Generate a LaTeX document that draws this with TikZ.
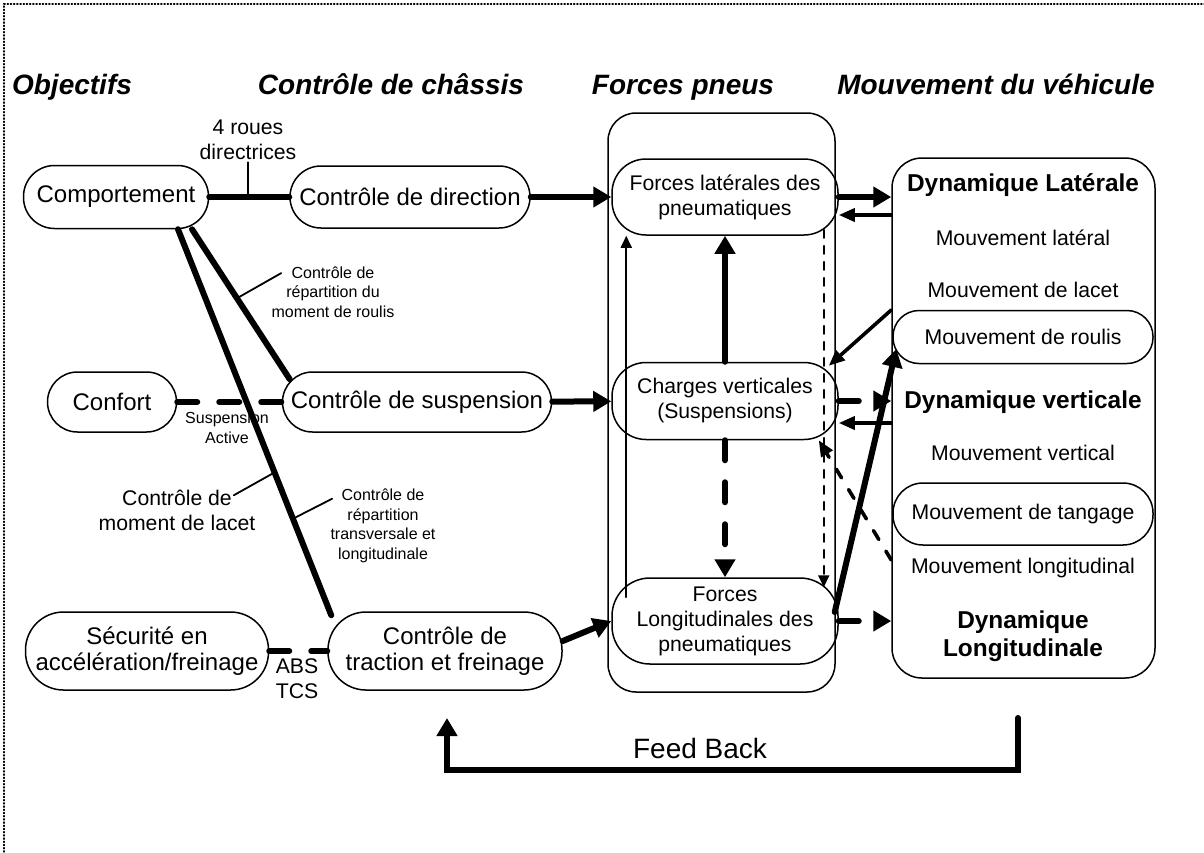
\documentclass[tikz,border=0pt]{standalone}
\usepackage{fontspec}
\setmainfont{Liberation Sans}
\usepackage{tikz}
\usetikzlibrary{arrows.meta}
\newcommand\bigtxt{\fontsize{12}{13}\selectfont}
\newcommand\midtxt{\fontsize{10.6}{12.5}\selectfont}
\newcommand\smalltxt{\fontsize{8}{9.8}\selectfont}
\newcommand\headtxt{\fontsize{14}{16}\selectfont\bfseries\itshape}
\newcommand\dyntxt{\fontsize{12.2}{14}\selectfont\bfseries}
\newcommand\fbtxt{\fontsize{14}{16}\selectfont}

\begin{document}
\begin{tikzpicture}[x=0.5pt,y=-0.5pt,line cap=round,
  pill/.style={draw,line width=0.75pt,rounded corners=#1,inner sep=0pt,align=center},
  pill/.default=15pt,
  lbl/.style={inner sep=1pt,align=center},
  thk/.style={line width=3pt},
  mid/.style={line width=1.8pt},
  thn/.style={line width=0.9pt},
  bigtip/.style={-{Triangle[length=9pt,width=10pt]}},
  midtip/.style={-{Triangle[length=8pt,width=6.5pt]}},
  thntip/.style={-{Triangle[length=6pt,width=5.5pt]}},
  bigdash/.style={dash pattern=on 10pt off 11pt},
  middash/.style={dash pattern=on 5.2pt off 6.8pt},
  thndash/.style={dash pattern=on 4.1pt off 3.9pt}]
  \useasboundingbox (0,0) rectangle (1204,852);
  \draw[densely dotted,line width=0.6pt] (4,852) -- (4,4) -- (1204,4);

  % column titles
  \foreach \x/\txt/\nm in {72/Objectifs/hobj,391/Contrôle de châssis/hchas,683/Forces pneus/hpneu,996/Mouvement du véhicule/hveh}
    \node[font=\headtxt,anchor=base] (\nm) at (\x,94) {\txt};

  % objectives and chassis control
  \node[pill=15.5pt,minimum width=92.5pt,minimum height=31.5pt,font=\bigtxt] (comp) at (116,197) {Comportement};
  \node[pill=15.5pt,minimum width=120pt,minimum height=31pt,font=\bigtxt] (dir) at (410,197) {Contrôle de direction};
  \node[pill,minimum width=64.5pt,minimum height=30pt,font=\bigtxt] (conf) at (112,402) {Confort};
  \node[pill,minimum width=134.5pt,minimum height=30pt,font=\bigtxt] (susp) at (417,402) {Contrôle de suspension};
  \node[pill=19pt,minimum width=121.5pt,minimum height=39pt,font=\bigtxt] (secu) at (147,651) {Sécurité en\\accélération/freinage};
  \node[pill=19pt,minimum width=117pt,minimum height=39pt,font=\bigtxt] (trac) at (445,651) {Contrôle de\\traction et freinage};

  % tyre forces
  \node[pill=14pt,minimum width=113.5pt,minimum height=289.5pt] (pneus) at (721.5,402.5) {};
  \node[pill=17pt,minimum width=113pt,minimum height=38pt,font=\midtxt] (flat) at (725,197) {Forces latérales des\\pneumatiques};
  \node[pill=17pt,minimum width=113pt,minimum height=38.5pt,font=\midtxt] (fvert) at (725,401) {Charges verticales\\(Suspensions)};
  \node[pill=19pt,minimum width=113pt,minimum height=43pt,font=\midtxt] (flong) at (725,621) {Forces\\Longitudinales des\\pneumatiques};

  % vehicle motion
  \node[pill=15pt,minimum width=131.5pt,minimum height=260pt] (mvt) at (1023.5,418) {};
  \node[pill=13pt,minimum width=130pt,minimum height=26.5pt,font=\midtxt] (roul) at (1023,337) {Mouvement de roulis};
  \node[pill,minimum width=130pt,minimum height=31pt,font=\midtxt] (tang) at (1023,514) {Mouvement de tangage};
  \node[font=\dyntxt] (dlat) at (1023,185) {Dynamique Latérale};
  \node[font=\dyntxt] (dver) at (1023,402) {Dynamique verticale};
  \node[font=\dyntxt,align=center] (dlon) at (1023,636) {Dynamique\\Longitudinale};
  \foreach \y/\txt/\nm in {238/Mouvement latéral/mlat,290/Mouvement de lacet/mlac,453/Mouvement vertical/mver,568/Mouvement longitudinal/mlong}
    \node[font=\midtxt] (\nm) at (1023,\y) {\txt};

  % labels on the links
  \node[lbl,font=\midtxt] (roues) at (248,140) {4 roues\\directrices};
  \node[lbl,font=\smalltxt] (rroul) at (333,292) {Contrôle de\\répartition du\\moment de roulis};
  \node[lbl,font=\smalltxt] (sact) at (227,428) {Suspension\\Active};
  \node[lbl,font=\midtxt] (lacet) at (177,510) {Contrôle de\\moment de lacet};
  \node[lbl,font=\smalltxt] (trans) at (383,526) {Contrôle de\\répartition\\transversale et\\longitudinale};
  \node[lbl,font=\midtxt] (abs) at (297,679) {ABS\\TCS};
  \node[font=\fbtxt] (fb) at (700,748) {Feed Back};

  % links on the left
  \draw[thk] (comp) -- (dir);
  \draw[thn] (roues.south) -- (roues.south |- comp.east);
  \draw[thk,bigtip] (dir) -- (flat);
  \draw[thk,bigdash] (conf) -- (susp);
  \draw[thk,bigtip] (susp) -- (fvert);
  \draw[thk,bigdash] (secu) -- (trac);
  \draw[thk,bigtip] ([yshift=5pt]trac.east) -- (flong.west);
  \draw[thk] ([xshift=38pt]comp.south) -- coordinate[pos=0.46] (lr) ([xshift=4pt,yshift=-4pt]susp.north west);
  \draw[thk] ([xshift=31pt]comp.south) -- coordinate[pos=0.63] (ll) coordinate[pos=0.75] (lt) ([xshift=2pt,yshift=-2pt]trac.north west);
  \draw[thn] (lr) -- ([xshift=6pt,yshift=-4.5pt]rroul.north west);
  \draw[thn] (ll) -- ([xshift=-12pt,yshift=-4pt]lacet.north east);
  \draw[thn] (lt) -- ([xshift=2pt,yshift=-6pt]trans.north west);

  % links inside the tyre box
  \draw[thk,bigtip] (fvert) -- (flat);
  \draw[thk,bigdash,bigtip] (fvert) -- (flong);
  \draw[thn,thntip] ([xshift=7.5pt,yshift=-10pt]flong.north west) -- ([xshift=7.5pt]flat.south west);
  \draw[thn,thndash,thntip] ([xshift=-7.5pt,yshift=3pt]flat.south east) -- ([xshift=-7.5pt,yshift=-5pt]flong.north east);

  % links between tyres and motion
  \draw[thk,bigtip] (flat.east) -- (flat.east -| mvt.west);
  \draw[mid,midtip] (mvt.west |- 0,215) -- (flat.east |- 0,215);
  \draw[mid,midtip] (mvt.west |- 0,310) -- ([xshift=-5pt,yshift=-2pt]fvert.north east);
  \draw[thk,bigdash,bigtip] (fvert.east) -- (fvert.east -| mvt.west);
  \draw[mid,midtip] (mvt.west |- 0,423) -- (fvert.east |- 0,423);
  \draw[mid,middash,midtip] (mvt.west |- 0,560) -- ([xshift=-10pt]fvert.south east);
  \draw[thk,bigtip] ([xshift=-2pt,yshift=4.5pt]flong.east) -- ([xshift=2pt,yshift=-6pt]roul.west);
  \draw[thk,bigdash,bigtip] (flong.east) -- (flong.east -| mvt.west);

  % feedback loop
  \coordinate (fbr) at (1018,718);
  \coordinate (fbl) at (447,718);
  \draw[thk,bigtip] (fbr) -- ++(0,52) -| (fbl);
\end{tikzpicture}
\end{document}
